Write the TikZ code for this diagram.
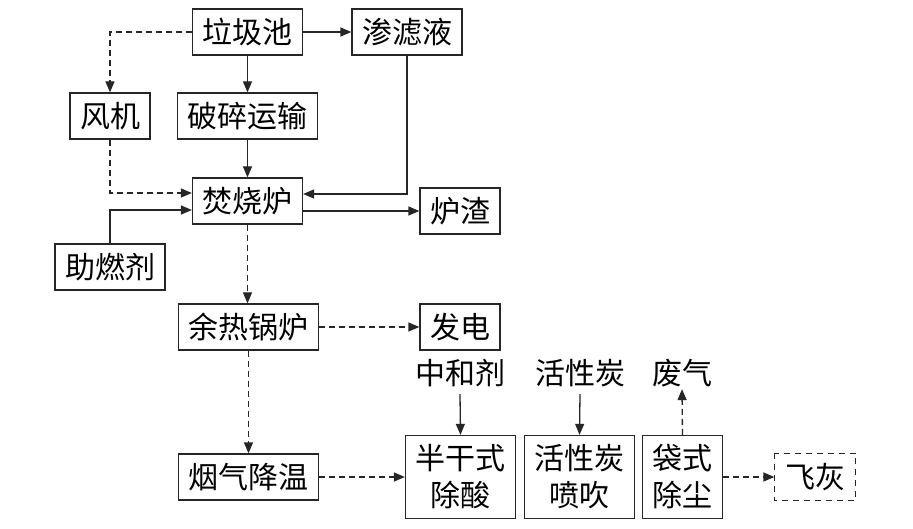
\documentclass[tikz,border=0pt]{standalone}
\usepackage{fontspec}
\usepackage{tikz}
\usetikzlibrary{arrows.meta,positioning}
\newfontfamily\cjk{Noto Sans CJK SC}

\begin{document}
\begin{tikzpicture}[x=1pt, y=-1pt,
        unit/.style={rectangle, draw=black!85, line width=1.3pt, font=\cjk\fontsize{30}{37}\selectfont, inner xsep=10pt, inner ysep=0pt, minimum height=46pt, align=center},
        tall/.style={unit, minimum height=83pt},
        feed/.style={font=\cjk\fontsize{30}{37}\selectfont, inner sep=2pt},
        flow/.style={draw=black!85, line width=1.3pt, -{Triangle[length=11pt,width=9pt]}},
        gas/.style={flow, dash pattern=on 6pt off 4pt}
    ]
    
    % keep the page the size of the reference
    \useasboundingbox (0,0) rectangle (913,529);
    
    % upper part: feeding the furnace
    \node[unit] (pit) at (247.5,32) {垃圾池};
    \node[unit] (leach) at (407,32) {渗滤液};
    \node[unit] (fan) at (110,116) {风机};
    \node[unit] (crush) at (247.5,116) {破碎运输};
    \node[unit] (furnace) at (247.5,201) {焚烧炉};
    \node[unit] (slag) at (460,211) {炉渣};
    \node[unit] (aid) at (110,267) {助燃剂};
    
    % heat recovery
    \node[unit] (boiler) at (248.5,327) {余热锅炉};
    \node[unit] (power) at (460,327) {发电};
    \node[unit] (cool) at (248.5,477) {烟气降温};
    
    % flue gas treatment
    \node[tall] (acid) at (460.5,477) {半干式\\除酸};
    \node[tall] (carbon) at (579.5,477) {活性炭\\喷吹};
    \node[tall] (bag) at (682.5,477) {袋式\\除尘};
    \node[unit, draw=none] (ash) at (815,477) {飞灰};
    \draw[black!85, line width=1.3pt, dash pattern=on 6pt off 5pt] (ash.north west) rectangle (ash.south east);
    
    % inputs and outputs of the treatment line
    \node[feed] (neut) at (460,373) {中和剂};
    \node[feed] (coal) at (580,373) {活性炭};
    \node[feed] (waste) at (682,373) {废气};
    
    % solid and liquid flows
    \draw[flow] (pit) -- (leach);
    \draw[flow] (pit) -- (crush);
    \draw[flow] (crush) -- (furnace);
    \draw[flow] (leach.south) |- ([yshift=7pt]furnace.east);
    \draw[flow] (aid.north) |- ([yshift=-9pt]furnace.west);
    \draw[flow] ([yshift=-10pt]furnace.east) -- (slag.west);
    
    % air and flue gas
    \draw[gas] (pit.west) -| (fan.north);
    \draw[gas] (fan.south) |- ([yshift=8pt]furnace.west);
    \draw[gas] (furnace.south) -- (furnace.south |- boiler.north);
    \draw[gas] (boiler) -- (power);
    \draw[gas] (boiler.south) -- (boiler.south |- cool.north);
    \draw[gas] (cool) -- (acid);
    \draw[gas] (bag.north) -- (waste.south);
    \draw[gas] (bag) -- (ash);
    
    % reagents
    \draw[flow] (neut.south) ++(0,5) -- (acid.north);
    \draw[flow] (coal.south) ++(0,5) -- (carbon.north);
    
    \end{tikzpicture}
\end{document}
